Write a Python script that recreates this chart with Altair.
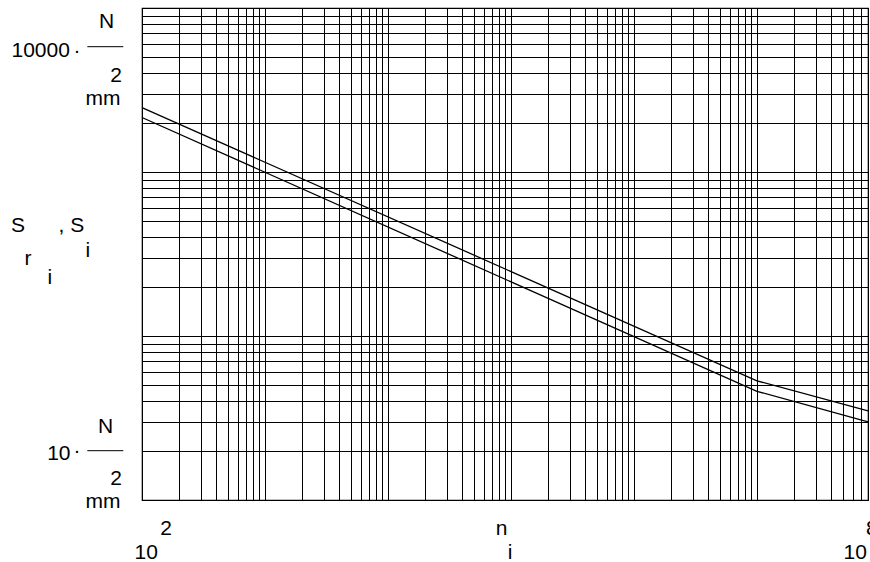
import altair as alt
import pandas as pd

# ---- data ----
cycles = [1e2, 1e7, 8e7]           # n_i
s_upper = [247.0, 5.33, 3.50]       # S_ri (upper curve)
s_lower = [215.0, 4.60, 3.00]       # S_i  (lower curve)

x_multipliers = [1, 2, 3, 4, 5, 6, 7, 8, 9]
x_decades = [2, 3, 4, 5, 6, 7]
y_decades = [0, 1, 2]
x_grid = [m * 10 ** e for e in x_decades for m in x_multipliers if m * 10 ** e <= 8e7]
y_grid = [m * 10 ** e for e in y_decades for m in x_multipliers] + [1000]

# annotation texts
label_texts = ["10000", "·", "N", "2", "mm",
               "10", "·", "N", "2", "mm",
               "S", "r", "i", ", S", "i",
               "2", "10", "n", "i", "10", "8"]

# ---- layout (absolute pixel positions in the 870x562 page) ----
PAD_L, PAD_T, W, H = 142, 8, 726, 492
label_pos = [  # (x, baseline y, align)
    (11.5, 56.7, "left"), (77, 56.7, "center"), (106.5, 28.3, "center"), (122, 81.7, "right"), (120.5, 105, "right"),
    (70.5, 460, "right"), (77, 457, "center"), (105.5, 433.3, "center"), (122, 485, "right"), (120.5, 508.3, "right"),
    (11, 231.7, "left"), (24.5, 265, "left"), (47.5, 284, "left"), (58.5, 231.7, "left"), (85.5, 256.7, "left"),
    (166, 535, "center"), (134.5, 559, "left"), (501.5, 535, "center"), (510, 559, "center"), (843.5, 559, "left"), (866, 535, "left"),
]
frac_lines = [(87.3, 123.3, 46.7), (87.3, 123.3, 450.7)]

curves = pd.DataFrame({
    "n": cycles + cycles,
    "S": s_upper + s_lower,
    "curve": ["upper"] * len(cycles) + ["lower"] * len(cycles),
})

grid_axis = dict(grid=True, labels=False, ticks=False, domain=False, title=None,
                 gridColor="black", gridOpacity=1, gridWidth=1)

lines = alt.Chart(curves).mark_line(color="black", strokeWidth=1.3).encode(
    x=alt.X("n:Q", scale=alt.Scale(type="log", domain=[1e2, 8e7], nice=False),
            axis=alt.Axis(values=x_grid, **grid_axis)),
    y=alt.Y("S:Q", scale=alt.Scale(type="log", domain=[1, 1000], nice=False),
            axis=alt.Axis(values=y_grid, **grid_axis)),
    detail="curve:N",
)

labels_df = pd.DataFrame({
    "text": label_texts,
    "px": [p[0] - PAD_L for p in label_pos],
    "py": [p[1] - PAD_T for p in label_pos],
    "align": [p[2] for p in label_pos],
})

texts = []
for al in ["left", "center", "right"]:
    sub = labels_df[labels_df["align"] == al]
    texts.append(
        alt.Chart(sub).mark_text(align=al, baseline="alphabetic", font="Liberation Sans",
                                 fontSize=21, color="black").encode(
            x=alt.X("px:Q", scale=None),
            y=alt.Y("py:Q", scale=None),
            text="text:N",
        )
    )

rules_df = pd.DataFrame({
    "x1": [f[0] - PAD_L for f in frac_lines],
    "x2": [f[1] - PAD_L for f in frac_lines],
    "y": [f[2] - PAD_T for f in frac_lines],
})
rules = alt.Chart(rules_df).mark_rule(color="black", strokeWidth=1).encode(
    x=alt.X("x1:Q", scale=None), x2="x2:Q", y=alt.Y("y:Q", scale=None)
)

chart = alt.layer(lines, rules, *texts).properties(
    width=W, height=H,
    padding={"left": PAD_L, "top": PAD_T, "right": 870 - PAD_L - W, "bottom": 562 - PAD_T - H},
    autosize=alt.AutoSizeParams(type="none"),
    background="white",
).configure_view(stroke="black", strokeWidth=1.2)

chart.save("out.html", embed_options={"renderer": "svg", "actions": False})
